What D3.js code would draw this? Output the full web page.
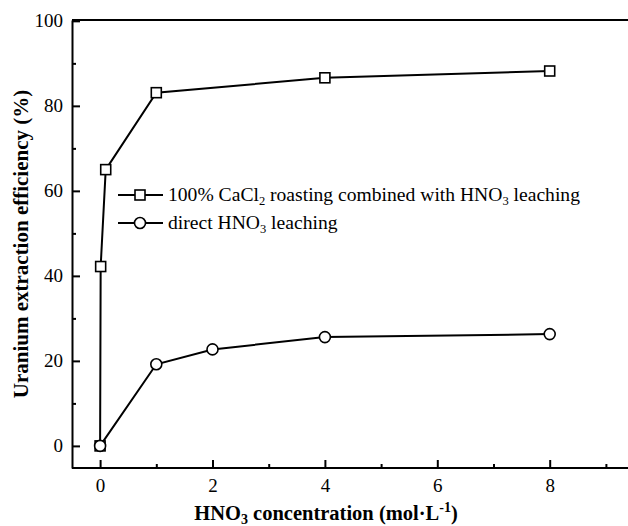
<!DOCTYPE html>
<html>
<meta charset=utf-8>
<head>
<style>
  body { margin: 0; background: #fff; }
</style>
</head>
<body>
<svg id="chart" width="628" height="526"></svg>
<script src="https://d3js.org/d3.v7.min.js"></script>
<script>
// HNO3 concentration (mol/L)
var cacl2X = [0, 0.01, 0.1, 1, 4, 8];
var cacl2Y = [0, 42.2, 65.0, 83.1, 86.6, 88.2];
var directX = [0, 1, 2, 4, 8];
var directY = [0, 19.2, 22.7, 25.6, 26.3];
var xTicks = [0, 2, 4, 6, 8];
var yTicks = [0, 20, 40, 60, 80, 100];

var serif = 'Liberation Serif';
var svg = d3.select('#chart');
var mLeft = 72, mTop = 20, mBottom = 468;

var x = d3.scaleLinear().domain([-0.5, 9.5]).range([mLeft, mLeft + 10 * 56.2]);
var y = d3.scaleLinear().domain([-5.2, 100.2]).range([mBottom, mTop]);

// frame: top line and axes
svg.append('line').attr('x1', mLeft).attr('x2', 640).attr('y1', mTop).attr('y2', mTop)
  .attr('stroke', '#000').attr('stroke-width', 2);

var xAxis = svg.append('g').attr('transform', 'translate(0,' + mBottom + ')')
  .call(d3.axisBottom(x).tickValues(xTicks).tickSizeInner(-8).tickSizeOuter(0).tickPadding(11));
var xMinor = svg.append('g').attr('transform', 'translate(0,' + mBottom + ')')
  .call(d3.axisBottom(x).tickValues([1, 3, 5, 7, 9]).tickSizeInner(-4).tickSizeOuter(0).tickFormat(''));
xMinor.select('.domain').remove();

var yAxis = svg.append('g').attr('transform', 'translate(' + mLeft + ',0)')
  .call(d3.axisLeft(y).tickValues(yTicks).tickSizeInner(-8).tickSizeOuter(0).tickPadding(9));
var yMinor = svg.append('g').attr('transform', 'translate(' + mLeft + ',0)')
  .call(d3.axisLeft(y).tickValues([10, 30, 50, 70, 90]).tickSizeInner(-4).tickSizeOuter(0).tickFormat(''));
yMinor.select('.domain').remove();

svg.selectAll('g').attr('font-family', serif).attr('font-size', 19);
svg.selectAll('.domain').attr('stroke-width', 2);
svg.selectAll('.tick line').attr('stroke-width', 2);
svg.selectAll('.tick text').style('font-family', serif).style('font-size', '19px');
xAxis.select('.domain').attr('d', 'M' + mLeft + ',0H640');

// lines
var line = d3.line().x(function(d) { return x(d[0]); }).y(function(d) { return y(d[1]); });
var s1 = d3.zip(cacl2X, cacl2Y);
var s2 = d3.zip(directX, directY);

svg.append('path').datum(s1).attr('d', line).attr('fill', 'none').attr('stroke', '#000').attr('stroke-width', 2);
svg.append('path').datum(s2).attr('d', line).attr('fill', 'none').attr('stroke', '#000').attr('stroke-width', 2);

svg.selectAll('rect.sq').data(s1).enter().append('rect').attr('class', 'sq')
  .attr('x', function(d) { return x(d[0]) - 5; })
  .attr('y', function(d) { return y(d[1]) - 5; })
  .attr('width', 10).attr('height', 10)
  .attr('fill', '#fff').attr('stroke', '#000').attr('stroke-width', 1.6);

svg.selectAll('circle.ci').data(s2).enter().append('circle').attr('class', 'ci')
  .attr('cx', function(d) { return x(d[0]); })
  .attr('cy', function(d) { return y(d[1]); })
  .attr('r', 5.5)
  .attr('fill', '#fff').attr('stroke', '#000').attr('stroke-width', 1.6);

// legend
var lg = svg.append('g');
[195, 223].forEach(function(ly, i) {
  lg.append('line').attr('x1', 118).attr('x2', 163).attr('y1', ly).attr('y2', ly)
    .attr('stroke', '#000').attr('stroke-width', 2);
  if (i === 0) {
    lg.append('rect').attr('x', 135).attr('y', ly - 5).attr('width', 10).attr('height', 10)
      .attr('fill', '#fff').attr('stroke', '#000').attr('stroke-width', 1.6);
  } else {
    lg.append('circle').attr('cx', 140).attr('cy', ly).attr('r', 5.5)
      .attr('fill', '#fff').attr('stroke', '#000').attr('stroke-width', 1.6);
  }
});

var t1 = lg.append('text').attr('x', 168).attr('y', 201).style('font-family', serif).style('font-size', '19.6px');
t1.append('tspan').text('100% CaCl');
t1.append('tspan').attr('dy', 4).style('font-size', '12.5px').text('2');
t1.append('tspan').attr('dy', -4).text(' roasting combined with HNO');
t1.append('tspan').attr('dy', 4).style('font-size', '12.5px').text('3');
t1.append('tspan').attr('dy', -4).text(' leaching');

var t2 = lg.append('text').attr('x', 168).attr('y', 229).style('font-family', serif).style('font-size', '19.6px');
t2.append('tspan').text('direct HNO');
t2.append('tspan').attr('dy', 4).style('font-size', '12.5px').text('3');
t2.append('tspan').attr('dy', -4).text(' leaching');

// axis titles
var xt = svg.append('text').attr('x', 326).attr('y', 520).attr('text-anchor', 'middle')
  .style('font-family', serif).style('font-size', '20.5px').style('font-weight', 'bold');
xt.append('tspan').text('HNO');
xt.append('tspan').attr('dy', 4).style('font-size', '14px').text('3');
xt.append('tspan').attr('dy', -4).text(' concentration (mol\u00b7L');
xt.append('tspan').attr('dy', -8).style('font-size', '14px').text('-1');
xt.append('tspan').attr('dy', 8).text(')');

svg.append('text').attr('transform', 'translate(28,244) rotate(-90)').attr('text-anchor', 'middle')
  .style('font-family', serif).style('font-size', '21px').style('font-weight', 'bold')
  .text('Uranium extraction efficiency (%)');
</script>
</body>
</html>
